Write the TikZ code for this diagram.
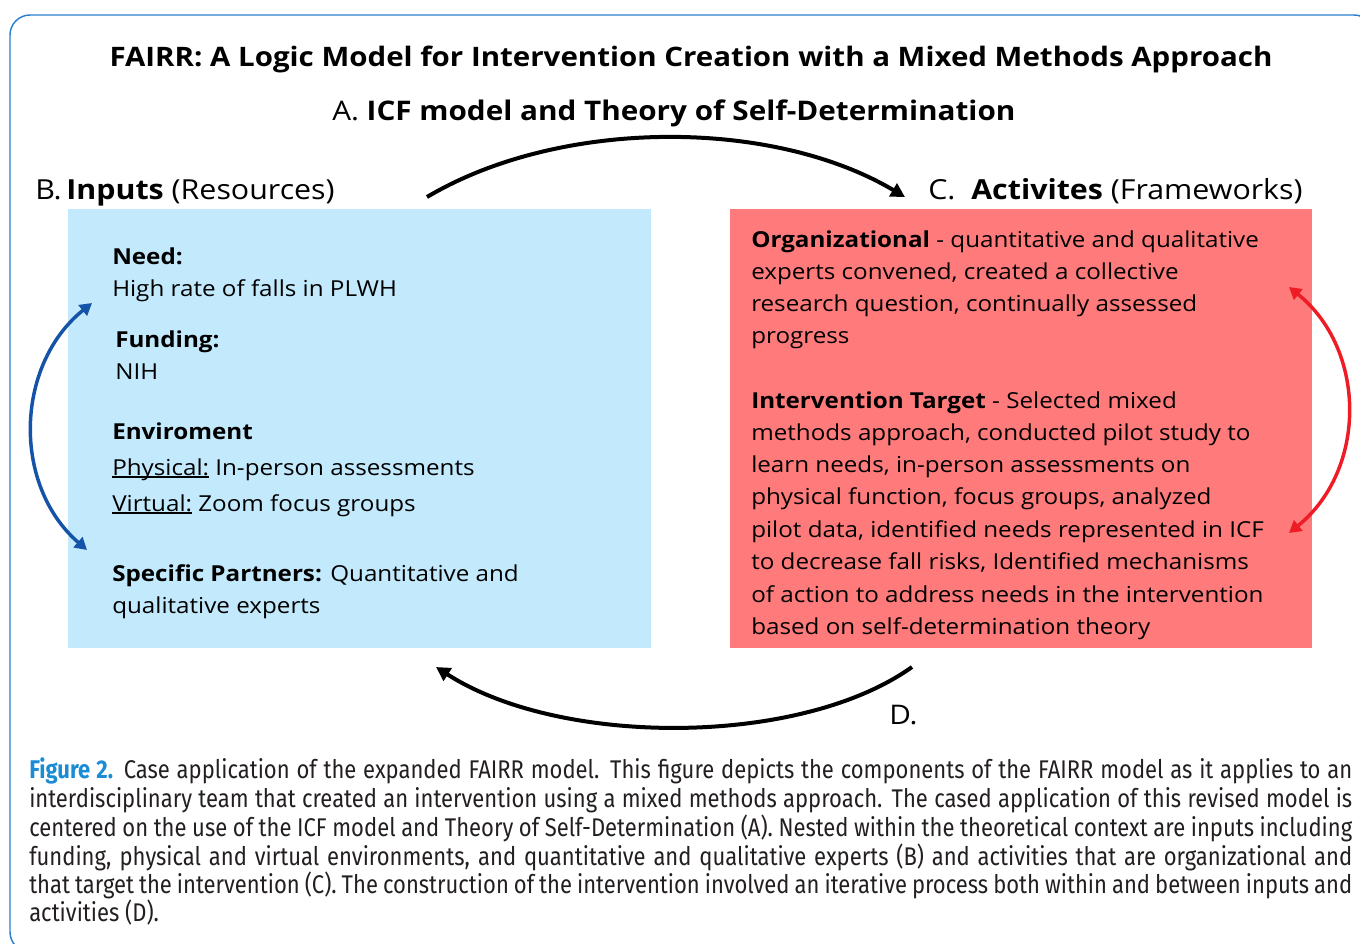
\documentclass[tikz,border=0pt]{standalone}
\usepackage{fontspec}
\setmainfont[FakeStretch=1.1]{Open Sans}
\newfontfamily\capfont[FakeStretch=0.86]{Fira Sans}
\usetikzlibrary{arrows.meta}
\definecolor{framec}{HTML}{2B7FD0}
\definecolor{inbox}{HTML}{C2E9FC}
\definecolor{actbox}{HTML}{FF7B7B}
\definecolor{arrblue}{HTML}{1553A8}
\definecolor{arrred}{HTML}{EE1C25}
\definecolor{figblue}{HTML}{1A8CD6}
\definecolor{captext}{HTML}{231F20}
\newcommand\fs[1]{\fontsize{\dimexpr #1pt*3/4\relax}{\dimexpr #1pt*9/10\relax}\selectfont}
\newcommand\ulx[1]{\setbox0\hbox{#1}\rlap{\rule[-0.13em]{\wd0}{0.065em}}\box0\relax}
\newcommand\capline[1]{\makebox[\dimexpr 1323pt*3/4\relax][s]{#1}}
\tikzset{
  txt/.style={anchor=base west, inner sep=0pt, font=\fs{22}},
  head/.style={anchor=base west, inner sep=0pt, font=\fs{27.6}},
  captxt/.style={anchor=base west, inner sep=0pt, font=\capfont\fs{25.6}, text=captext},
  cycle/.style={line width=3pt, -{Triangle[length=10.5pt,width=11pt]}},
  twoway/.style={line width=2.6pt, {Triangle[length=9pt,width=10pt]}-{Triangle[length=9pt,width=10pt]}},
  panel/.style={inner sep=0pt, anchor=north west, minimum height=329.25pt}
}
\begin{document}
\begin{tikzpicture}[x=0.75pt,y=-0.75pt]
\useasboundingbox (0,0) rectangle (1360,943);
\begin{scope}
\clip (0,0) rectangle (1360,943);
\draw[framec, line width=1.1pt, rounded corners=15pt] (10,15) rectangle (1374,952);
\end{scope}

% titles
\node[anchor=base, inner sep=0pt, font=\fs{26.8}\bfseries] (title) at (691,66)
  {FAIRR: A Logic Model for Intervention Creation with a Mixed Methods Approach};
\node[head, font=\fs{27}] (hA) at (332,120) {A. \textbf{ICF model and Theory of Self-Determination}};
\node[head] (hB) at (35,199) {B.\,\textbf{Inputs} (Resources)};
\node[head] (hC) at (928,199) {C.\ \ \textbf{Activites} (Frameworks)};

% panels
\node[panel, fill=inbox, minimum width=437.25pt] (inputs) at (68,209) {};
\node[panel, fill=actbox, minimum width=436.5pt] (acts) at (730,209) {};

% inputs text
\node[txt] (in1) at (112,264) {\textbf{Need:}};
\node[txt] (in2) at (112,296) {High rate of falls in PLWH};
\node[txt] (in3) at (115,347) {\textbf{Funding:}};
\node[txt] (in4) at (115,379) {NIH};
\node[txt] (in5) at (112,439) {\textbf{Enviroment}};
\node[txt] (in6) at (112,475) {\ulx{Physical:} In-person assessments};
\node[txt] (in7) at (112,511) {\ulx{Virtual:} Zoom focus groups};
\node[txt] (in8) at (112,581) {\textbf{Specific Partners:} Quantitative and};
\node[txt] (in9) at (112,613) {qualitative experts};

% activities text
\foreach \yy/\tt [count=\i] in {
  247/{\textbf{Organizational} - quantitative and qualitative},
  279/{experts convened, created a collective},
  311/{research question, continually assessed},
  343/{progress},
  408/{\textbf{Intervention Target} - Selected mixed},
  440/{methods approach, conducted pilot study to},
  472/{learn needs, in-person assessments on},
  504/{physical function, focus groups, analyzed},
  537/{pilot data, identified needs represented in ICF},
  569/{to decrease fall risks, Identified mechanisms},
  602/{of action to address needs in the intervention},
  634/{based on self-determination theory}}
  \node[txt] (act\i) at (751,\yy) {\tt};

% cycle arrows
\coordinate (topS) at (427,197);
\coordinate (topE) at (905,197);
\coordinate (botS) at (912,667);
\coordinate (botE) at (436,667);
\draw[cycle] (topS) .. controls (560,118) and (772,118) .. (topE);
\draw[cycle] (botS) .. controls (800,747) and (560,747) .. (botE);
\node[anchor=base west, inner sep=0pt, font=\fs{27}] (hD) at (889,724) {D.};

% within-panel arrows
\coordinate (bTop) at (92,303);
\coordinate (bBot) at (87,550);
\draw[twoway, arrblue] (bTop) .. controls (15,365) and (12,485) .. (bBot);
\coordinate (rTop) at (1289,287);
\coordinate (rBot) at (1289,533);
\draw[twoway, arrred] (rTop) .. controls (1367,350) and (1367,470) .. (rBot);

% caption
\node[captxt] (cap1) at (29,778) {\capline{{\bfseries\color{figblue}Figure 2.} Case application of the expanded FAIRR model. This figure depicts the components of the FAIRR model as it applies to an}};
\node[captxt] (cap2) at (29,807) {\capline{interdisciplinary team that created an intervention using a mixed methods approach. The cased application of this revised model is}};
\node[captxt] (cap3) at (29,836) {\capline{centered on the use of the ICF model and Theory of Self-Determination (A). Nested within the theoretical context are inputs including}};
\node[captxt] (cap4) at (29,865) {\capline{funding, physical and virtual environments, and quantitative and qualitative experts (B) and activities that are organizational and}};
\node[captxt] (cap5) at (29,893) {\capline{that target the intervention (C). The construction of the intervention involved an iterative process both within and between inputs and}};
\node[captxt] (cap6) at (29,921) {activities (D).};
\end{tikzpicture}
\end{document}
